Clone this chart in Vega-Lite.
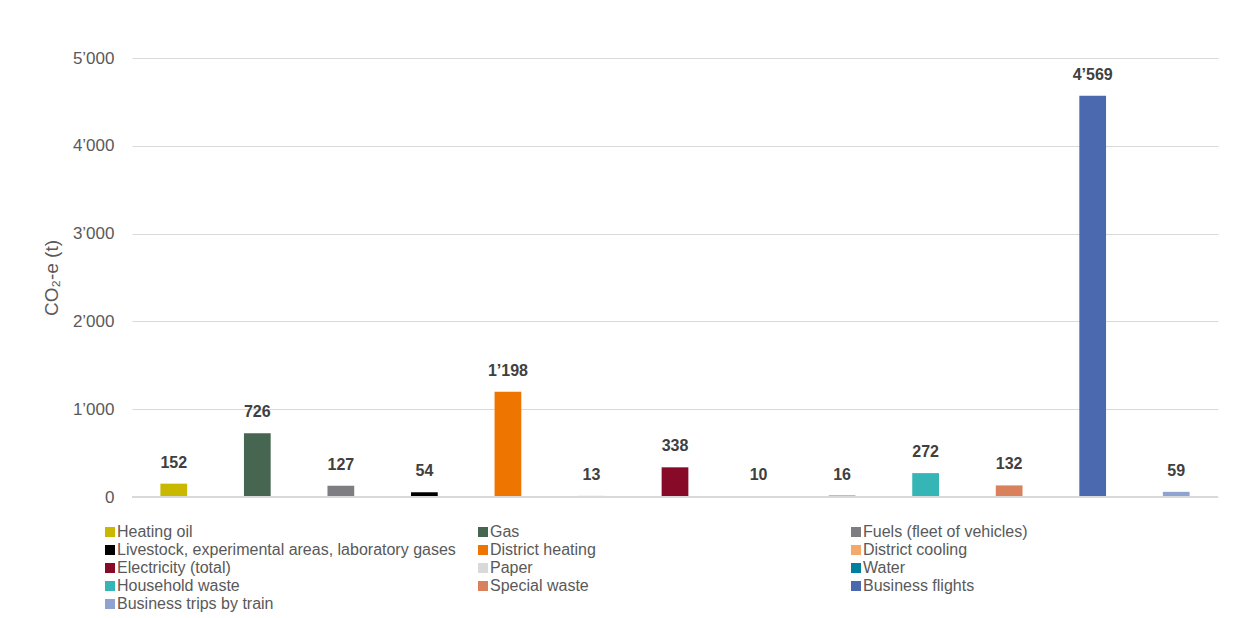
{
  "$schema": "https://vega.github.io/schema/vega-lite/v6.json",
  "width": 1086,
  "height": 439,
  "autosize": {"type": "none"},
  "padding": {"left": 132, "top": 58, "right": 22, "bottom": 121},
  "background": "#ffffff",
  "config": {
    "font": "Liberation Sans",
    "view": {"stroke": null},
    "locale": {"number": {"decimal": ".", "thousands": "’", "grouping": [3], "currency": ["", ""]}}
  },
  "data": {
    "values": [
      {"category": "Heating oil", "value": 152},
      {"category": "Gas", "value": 726},
      {"category": "Fuels (fleet of vehicles)", "value": 127},
      {"category": "Livestock, experimental areas, laboratory gases", "value": 54},
      {"category": "District heating", "value": 1198},
      {"category": "District cooling", "value": 13},
      {"category": "Electricity (total)", "value": 338},
      {"category": "Paper", "value": 10},
      {"category": "Water", "value": 16},
      {"category": "Household waste", "value": 272},
      {"category": "Special waste", "value": 132},
      {"category": "Business flights", "value": 4569},
      {"category": "Business trips by train", "value": 59}
    ]
  },
  "encoding": {
    "x": {
      "field": "category",
      "type": "nominal",
      "sort": null,
      "axis": null,
      "scale": {"paddingInner": 0.68, "paddingOuter": 0.34}
    },
    "y": {
      "field": "value",
      "type": "quantitative",
      "scale": {"domain": [0, 5000], "nice": false},
      "axis": {
        "values": [0, 1000, 2000, 3000, 4000, 5000],
        "labelExpr": "datum.value == 0 ? '0' : (datum.value / 1000) + '’000'",
        "domain": false,
        "ticks": false,
        "grid": true,
        "gridColor": "#d9d9d9",
        "gridWidth": 1,
        "labelPadding": 18,
        "labelFontSize": 17,
        "labelColor": "#595959",
        "title": "CO₂-e (t)",
        "titleFontSize": 19,
        "titleFontWeight": "normal",
        "titleColor": "#595959",
        "titlePadding": 11
      }
    }
  },
  "layer": [
    {
      "mark": {"type": "bar"},
      "encoding": {
        "color": {
          "field": "category",
          "type": "nominal",
          "sort": null,
          "scale": {
            "domain": ["Heating oil", "Gas", "Fuels (fleet of vehicles)", "Livestock, experimental areas, laboratory gases", "District heating", "District cooling", "Electricity (total)", "Paper", "Water", "Household waste", "Special waste", "Business flights", "Business trips by train"],
            "range": ["#c8b900", "#466652", "#7d7d82", "#000000", "#ee7600", "#f4a96a", "#870a28", "#d9d9d9", "#00809e", "#35b5b5", "#d9805c", "#4a69ae", "#8ea3d0"]
          },
          "legend": {
            "title": null,
            "orient": "none",
            "direction": "horizontal",
            "legendX": -30,
            "legendY": 466,
            "columns": 3,
            "gridAlign": "all",
            "columnPadding": 19,
            "rowPadding": 2,
            "symbolType": "square",
            "symbolSize": 100,
            "symbolStrokeWidth": 0,
            "labelOffset": -1,
            "labelFontSize": 16,
            "labelColor": "#595959",
            "labelLimit": 500,
            "padding": 0
          }
        }
      }
    },
    {
      "mark": {"type": "rule", "color": "#d9d9d9", "strokeWidth": 2},
      "encoding": {"y": {"datum": 0}, "x": null}
    },
    {
      "mark": {"type": "text", "fontSize": 16, "fontWeight": "bold", "color": "#404040", "baseline": "middle", "dy": -21},
      "encoding": {"text": {"field": "value", "type": "quantitative", "format": ","}}
    }
  ]
}
